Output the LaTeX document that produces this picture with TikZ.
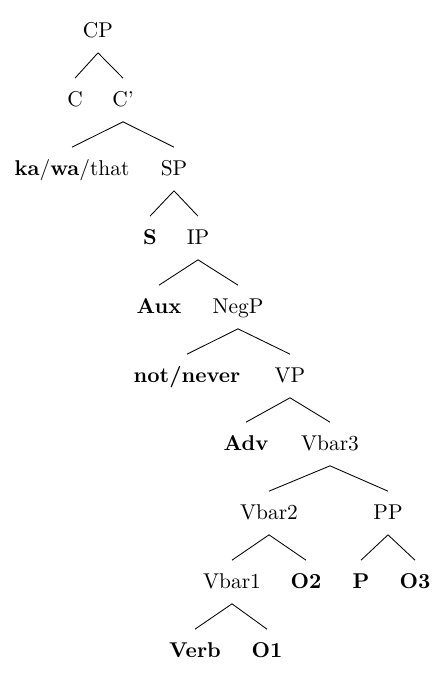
\documentclass[tikz,border=0pt]{standalone}
\usepackage{amsmath}
\usepackage{tikz}

\begin{document}
\begin{tikzpicture}[x=0.4673pt, y=-0.4673pt,
  cat/.style={inner sep=0pt, minimum height=20pt, text height=1.6ex, text depth=.25ex},
  lex/.style={cat, font=\bfseries}]
	\useasboundingbox (0, 0) rectangle (447, 681);
	% categories, row by row
	\node[cat] (cp) at (98, 31) {CP};
	\node[cat] (c) at (75, 100) {C};
	\node[cat] (cbar) at (123, 100) {C'};
	\node[cat] (comp) at (72, 169) {\textbf{ka}/\textbf{wa}/that};
	\node[cat] (sp) at (174, 169) {SP};
	\node[lex] (s) at (150, 238) {S};
	\node[cat] (ip) at (198, 238) {IP};
	\node[lex] (aux) at (159, 307) {Aux};
	\node[cat] (negp) at (238, 307) {NegP};
	\node[lex] (neg) at (187, 376) {not/never};
	\node[cat] (vp) at (290, 376) {VP};
	\node[lex] (adv) at (246, 444) {Adv};
	\node[cat] (vbar3) at (330, 444) {Vbar3};
	\node[cat] (vbar2) at (269, 513) {Vbar2};
	\node[cat] (pp) at (388, 513) {PP};
	\node[cat] (vbar1) at (232, 582) {Vbar1};
	\node[lex] (otwo) at (306, 582) {O2};
	\node[lex] (p) at (361, 582) {P};
	\node[lex] (othree) at (415, 582) {O3};
	\node[lex] (verb) at (195, 651) {Verb};
	\node[lex] (oone) at (267, 651) {O1};
	% branches
	\draw (cp.south) -- (c.north) (cp.south) -- (cbar.north);
	\draw (cbar.south) -- (comp.north) (cbar.south) -- (sp.north);
	\draw (sp.south) -- (s.north) (sp.south) -- (ip.north);
	\draw (ip.south) -- (aux.north) (ip.south) -- (negp.north);
	\draw (negp.south) -- (neg.north) (negp.south) -- (vp.north);
	\draw (vp.south) -- (adv.north) (vp.south) -- (vbar3.north);
	\draw (vbar3.south) -- (vbar2.north) (vbar3.south) -- (pp.north);
	\draw (vbar2.south) -- (vbar1.north) (vbar2.south) -- (otwo.north);
	\draw (pp.south) -- (p.north) (pp.south) -- (othree.north);
	\draw (vbar1.south) -- (verb.north) (vbar1.south) -- (oone.north);
\end{tikzpicture}
\end{document}
